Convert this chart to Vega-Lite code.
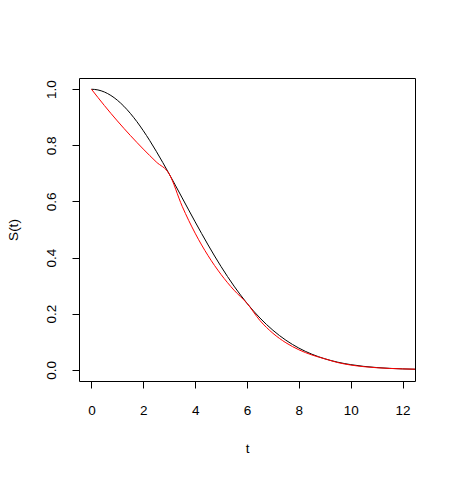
{
  "$schema": "https://vega.github.io/schema/vega-lite/v6.json",
  "autosize": "none",
  "width": 336,
  "height": 303,
  "padding": {"left": 79, "top": 78, "right": 41, "bottom": 98},
  "background": "white",
  "config": {
    "view": {"stroke": "black", "strokeWidth": 1},
    "font": "Liberation Sans",
    "axis": {
      "domain": false,
      "grid": false,
      "ticks": true,
      "tickColor": "black",
      "tickSize": 7,
      "tickWidth": 1,
      "labelColor": "black",
      "labelFont": "Liberation Sans",
      "labelFontSize": 13.5,
      "titleFont": "Liberation Sans",
      "titleFontSize": 13.5,
      "titleFontWeight": "normal",
      "titleColor": "black"
    }
  },
  "data": {
    "values": [
      {"t": 0, "S": 1, "series": "weibull"},
      {"t": 0.25, "S": 0.9975, "series": "weibull"},
      {"t": 0.5, "S": 0.99005, "series": "weibull"},
      {"t": 0.75, "S": 0.97775, "series": "weibull"},
      {"t": 1, "S": 0.96079, "series": "weibull"},
      {"t": 1.25, "S": 0.93941, "series": "weibull"},
      {"t": 1.5, "S": 0.91393, "series": "weibull"},
      {"t": 1.75, "S": 0.88471, "series": "weibull"},
      {"t": 2, "S": 0.85214, "series": "weibull"},
      {"t": 2.25, "S": 0.81669, "series": "weibull"},
      {"t": 2.5, "S": 0.7788, "series": "weibull"},
      {"t": 2.75, "S": 0.73897, "series": "weibull"},
      {"t": 3, "S": 0.69768, "series": "weibull"},
      {"t": 3.25, "S": 0.65541, "series": "weibull"},
      {"t": 3.5, "S": 0.61263, "series": "weibull"},
      {"t": 3.75, "S": 0.56978, "series": "weibull"},
      {"t": 4, "S": 0.52729, "series": "weibull"},
      {"t": 4.25, "S": 0.48554, "series": "weibull"},
      {"t": 4.5, "S": 0.44486, "series": "weibull"},
      {"t": 4.75, "S": 0.40555, "series": "weibull"},
      {"t": 5, "S": 0.36788, "series": "weibull"},
      {"t": 5.25, "S": 0.33204, "series": "weibull"},
      {"t": 5.5, "S": 0.2982, "series": "weibull"},
      {"t": 5.75, "S": 0.26647, "series": "weibull"},
      {"t": 6, "S": 0.23693, "series": "weibull"},
      {"t": 6.25, "S": 0.20961, "series": "weibull"},
      {"t": 6.5, "S": 0.18452, "series": "weibull"},
      {"t": 6.75, "S": 0.16162, "series": "weibull"},
      {"t": 7, "S": 0.14086, "series": "weibull"},
      {"t": 7.25, "S": 0.12215, "series": "weibull"},
      {"t": 7.5, "S": 0.1054, "series": "weibull"},
      {"t": 7.75, "S": 0.09049, "series": "weibull"},
      {"t": 8, "S": 0.0773, "series": "weibull"},
      {"t": 8.25, "S": 0.06571, "series": "weibull"},
      {"t": 8.5, "S": 0.05558, "series": "weibull"},
      {"t": 8.75, "S": 0.04677, "series": "weibull"},
      {"t": 9, "S": 0.03916, "series": "weibull"},
      {"t": 9.5, "S": 0.02705, "series": "weibull"},
      {"t": 10, "S": 0.01832, "series": "weibull"},
      {"t": 10.5, "S": 0.01216, "series": "weibull"},
      {"t": 11, "S": 0.00791, "series": "weibull"},
      {"t": 11.5, "S": 0.00504, "series": "weibull"},
      {"t": 12, "S": 0.00315, "series": "weibull"},
      {"t": 12.5, "S": 0.00193, "series": "weibull"},
      {"t": 0, "S": 1, "series": "piecewise"},
      {"t": 0.5, "S": 0.94176, "series": "piecewise"},
      {"t": 1, "S": 0.88692, "series": "piecewise"},
      {"t": 1.5, "S": 0.83527, "series": "piecewise"},
      {"t": 2, "S": 0.78663, "series": "piecewise"},
      {"t": 2.5, "S": 0.74082, "series": "piecewise"},
      {"t": 3, "S": 0.69768, "series": "piecewise"},
      {"t": 3.5, "S": 0.58275, "series": "piecewise"},
      {"t": 4, "S": 0.48675, "series": "piecewise"},
      {"t": 4.5, "S": 0.40657, "series": "piecewise"},
      {"t": 5, "S": 0.3396, "series": "piecewise"},
      {"t": 5.5, "S": 0.28365, "series": "piecewise"},
      {"t": 6, "S": 0.23693, "series": "piecewise"},
      {"t": 6.5, "S": 0.17552, "series": "piecewise"},
      {"t": 7, "S": 0.13003, "series": "piecewise"},
      {"t": 7.5, "S": 0.09633, "series": "piecewise"},
      {"t": 8, "S": 0.07136, "series": "piecewise"},
      {"t": 8.5, "S": 0.05287, "series": "piecewise"},
      {"t": 9, "S": 0.03916, "series": "piecewise"},
      {"t": 9.5, "S": 0.02573, "series": "piecewise"},
      {"t": 10, "S": 0.01691, "series": "piecewise"},
      {"t": 10.5, "S": 0.01111, "series": "piecewise"},
      {"t": 11, "S": 0.0073, "series": "piecewise"},
      {"t": 11.5, "S": 0.0048, "series": "piecewise"},
      {"t": 12, "S": 0.00315, "series": "piecewise"},
      {"t": 12.5, "S": 0.00207, "series": "piecewise"}
    ]
  },
  "mark": {"type": "line", "strokeWidth": 1, "clip": true, "interpolate": "monotone"},
  "encoding": {
    "x": {
      "field": "t", "type": "quantitative", "title": "t",
      "scale": {"domain": [-0.48, 12.48], "nice": false, "zero": false},
      "axis": {"values": [0, 2, 4, 6, 8, 10, 12], "labelPadding": 15, "titlePadding": 25, "labelFlush": false}
    },
    "y": {
      "field": "S", "type": "quantitative", "title": "S(t)",
      "scale": {"domain": [-0.04, 1.04], "nice": false, "zero": false},
      "axis": {"values": [0, 0.2, 0.4, 0.6, 0.8, 1.0], "format": ".1f", "labelAngle": -90, "labelAlign": "center", "labelBaseline": "bottom", "labelPadding": 14, "titlePadding": 24, "labelFlush": false}
    },
    "color": {
      "field": "series", "type": "nominal",
      "scale": {"domain": ["weibull", "piecewise"], "range": ["#000000", "#FF0000"]},
      "legend": null
    },
    "order": {"field": "t", "type": "quantitative"}
  }
}
